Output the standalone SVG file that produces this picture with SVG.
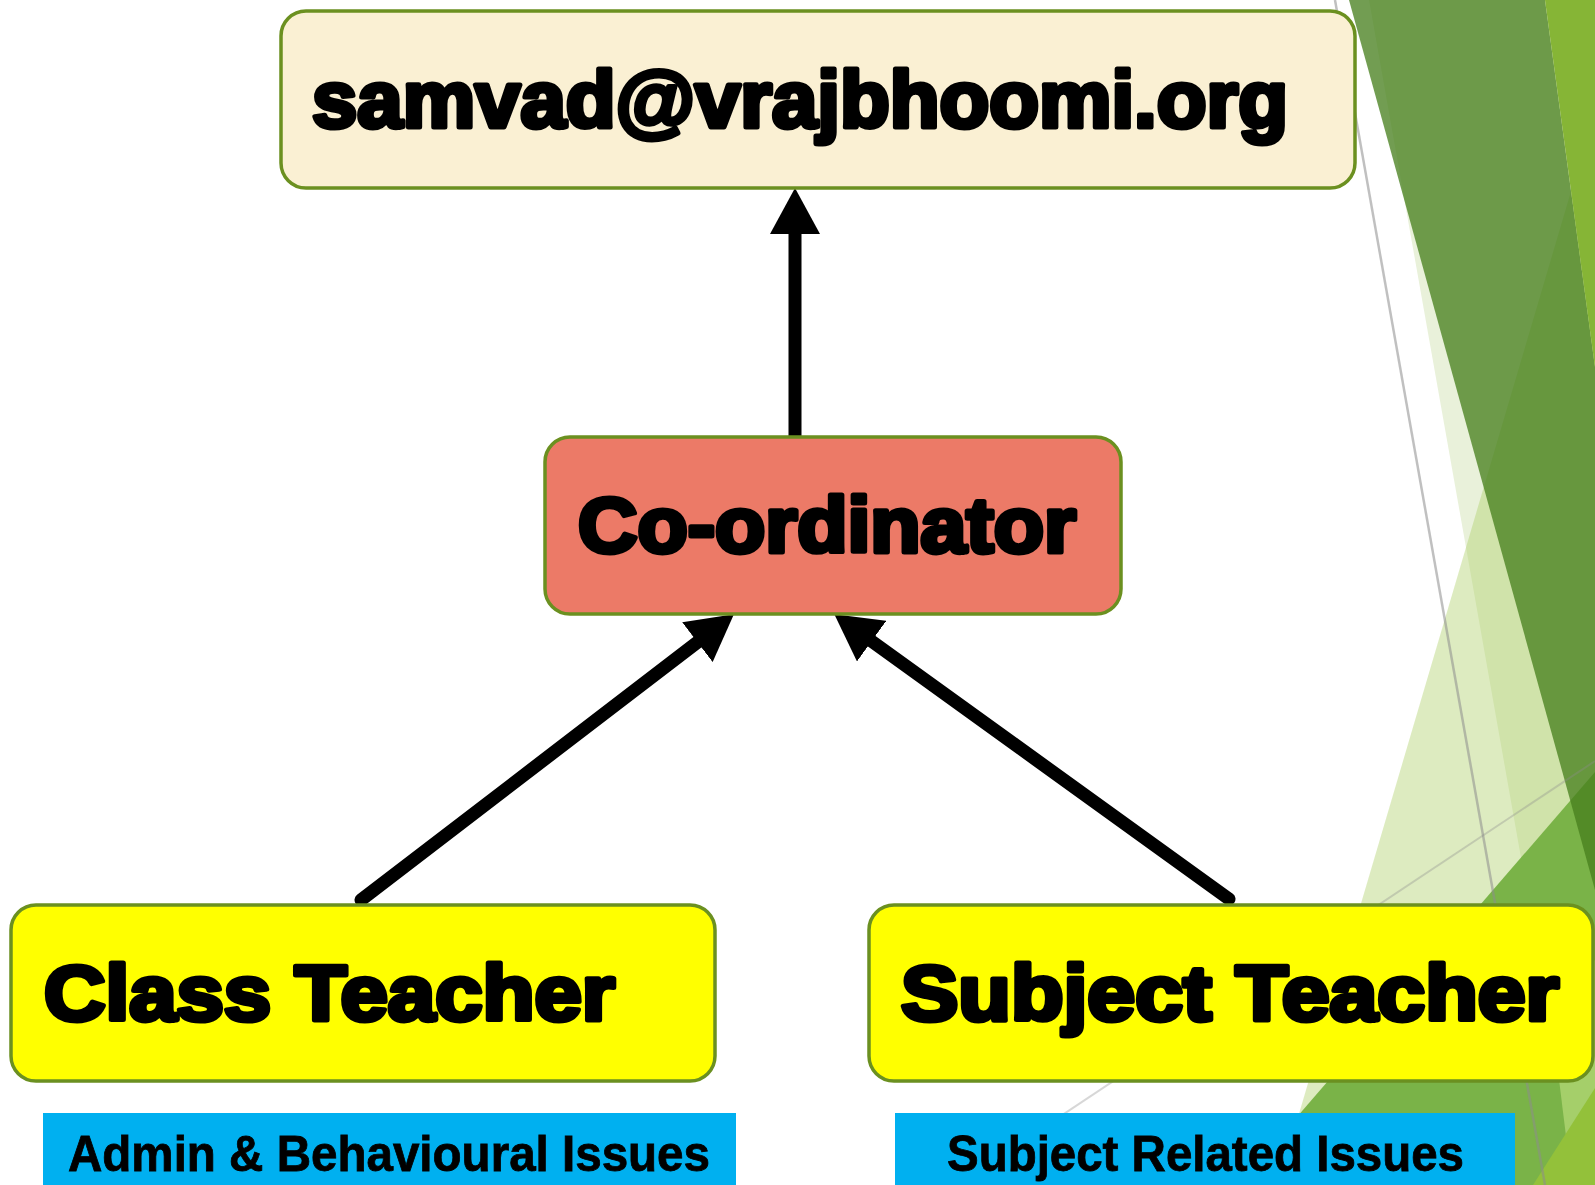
<svg xmlns="http://www.w3.org/2000/svg" width="1595" height="1185" viewBox="0 0 1595 1185">
  <style>
    .box { stroke: #6B9020; stroke-width: 3.5; }
    .heavy { font-family: "Liberation Sans", Arial, sans-serif; font-weight: bold; fill: #000; stroke: #000; stroke-width: 5; stroke-linejoin: round; }
    .lbl { font-family: "Liberation Sans", Arial, sans-serif; font-weight: bold; fill: #000; stroke: #000; stroke-width: 0.8; }
    .conn { stroke: #000; stroke-width: 13; stroke-linecap: round; fill: none; marker-end: url(#head); }
  </style>
  <defs>
    <marker id="head" markerUnits="userSpaceOnUse" viewBox="0 0 46 50" markerWidth="46" markerHeight="50" refX="2" refY="25" orient="auto">
      <path d="M0,0 L46,25 L0,50 Z" fill="#000"/>
    </marker>
  </defs>
  <rect width="1595" height="1185" fill="#FFFFFF"/>
  <g id="background">
    <polygon points="1369,0 1595,0 1595,1185 1579,1185" fill="#E9F1DA"/>
    <polygon points="1595,110 1278,1185 1595,1185" fill="rgb(172,206,101)" fill-opacity="0.41"/>
    <polygon points="1595,772 1290,1125 1290,1185 1595,1185" fill="#7AB348"/>
    <polygon points="1548,990 1572,1185 1595,1185 1595,960" fill="#A5CF6A"/>
    <polygon points="1595,1088 1533,1185 1595,1185" fill="#93C13A"/>
    <polygon points="1349,0 1545,0 1595,367 1595,890" fill="rgb(71,127,29)" fill-opacity="0.765"/>
    <polygon points="1545,0 1595,0 1595,367" fill="#86B536"/>
    <line x1="1335" y1="0" x2="1545" y2="1185" stroke="#8C8C8C" stroke-opacity="0.55" stroke-width="2.5"/>
    <line x1="1595" y1="761" x2="957" y2="1185" stroke="#8C8C8C" stroke-opacity="0.35" stroke-width="2"/>
  </g>
  <g id="connectors">
    <path class="conn" d="M795,437 L795,232"/>
    <path class="conn" d="M361,900 L699,641"/>
    <path class="conn" d="M1229,899 L870,640"/>
  </g>
  <g id="email">
    <rect class="box" x="281" y="11" width="1074" height="177" rx="25" fill="#FAF0D3"/>
    <text class="heavy" x="312" y="127" font-size="80" textLength="976" lengthAdjust="spacingAndGlyphs">samvad@vrajbhoomi.org</text>
  </g>
  <g id="coordinator">
    <rect class="box" x="545" y="437" width="576" height="177" rx="25" fill="#EC7A67"/>
    <text class="heavy" x="578" y="552" font-size="78" textLength="498" lengthAdjust="spacingAndGlyphs">Co-ordinator</text>
  </g>
  <g id="class-teacher">
    <rect class="box" x="11" y="905" width="704" height="176" rx="25" fill="#FFFF00"/>
    <text class="heavy" x="44" y="1020" font-size="78" textLength="571" lengthAdjust="spacingAndGlyphs">Class Teacher</text>
  </g>
  <g id="subject-teacher">
    <rect class="box" x="869" y="905" width="724" height="176" rx="25" fill="#FFFF00"/>
    <text class="heavy" x="901" y="1020" font-size="78" textLength="658" lengthAdjust="spacingAndGlyphs">Subject Teacher</text>
  </g>
  <g id="admin-label">
    <rect x="43" y="1113" width="693" height="72" fill="#00B0F0"/>
    <text class="lbl" x="68" y="1171" font-size="50" textLength="642" lengthAdjust="spacingAndGlyphs">Admin &amp; Behavioural Issues</text>
  </g>
  <g id="subject-label">
    <rect x="895" y="1113" width="620" height="72" fill="#00B0F0"/>
    <text class="lbl" x="947" y="1171" font-size="50" textLength="517" lengthAdjust="spacingAndGlyphs">Subject Related Issues</text>
  </g>
</svg>
